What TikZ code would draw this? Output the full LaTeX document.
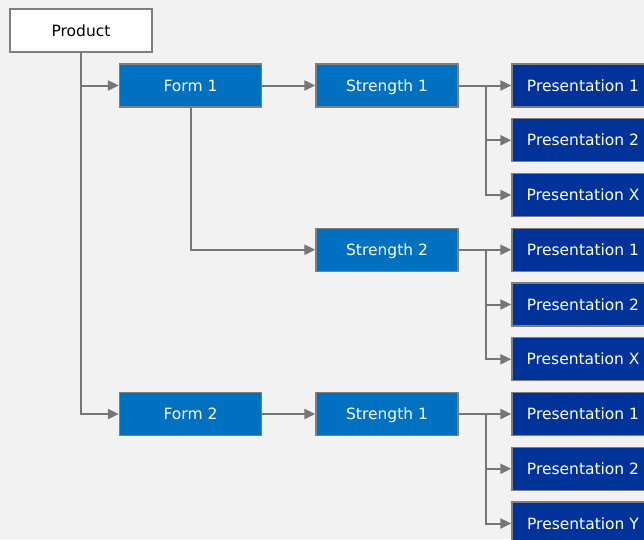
\documentclass[tikz,border=0pt]{standalone}
\usepackage{fontspec}
\setmainfont{DejaVu Sans}
\usepackage{xcolor}
\usetikzlibrary{arrows.meta}
\definecolor{bggray}{HTML}{F2F2F2}
\definecolor{linegray}{HTML}{767676}
\definecolor{edgegray}{HTML}{7F7F7F}
\definecolor{formblue}{HTML}{0070C0}
\definecolor{presblue}{HTML}{003399}

\begin{document}
\begin{tikzpicture}[x=1pt, y=-1pt, >={Triangle[length=11pt,width=10pt]}, line width=2pt,
  font=\fontsize{15.5}{18}\selectfont,
  box/.style={draw=edgegray, line width=1.3pt, minimum width=142pt, minimum height=43pt, inner sep=0pt,
    text height=11pt, text depth=0pt},
  prodbox/.style={box, fill=white, text=black},
  formbox/.style={box, fill=formblue, text=white},
  presbox/.style={box, fill=presblue, text=white},
  link/.style={linegray, ->}]
  \clip (0,0) rectangle (644,539);
  \fill[bggray] (0,0) rectangle (644,539);
  % product and forms
  \node[prodbox] (product) at (81,30.5) {Product};
  \node[formbox] (form1) at (190.5,85.5) {Form 1};
  \node[formbox] (form2) at (190.5,414) {Form 2};
  % strengths
  \node[formbox] (str11) at (387,85.5) {Strength 1};
  \node[formbox] (str12) at (387,249.75) {Strength 2};
  \node[formbox] (str21) at (387,414) {Strength 1};
  % presentations
  \node[presbox] (pres111) at (583,85.5) {Presentation 1};
  \node[presbox] (pres112) at (583,140.25) {Presentation 2};
  \node[presbox] (pres11x) at (583,195) {Presentation X};
  \node[presbox] (pres121) at (583,249.75) {Presentation 1};
  \node[presbox] (pres122) at (583,304.5) {Presentation 2};
  \node[presbox] (pres12x) at (583,359.25) {Presentation X};
  \node[presbox] (pres211) at (583,414) {Presentation 1};
  \node[presbox] (pres212) at (583,468.75) {Presentation 2};
  \node[presbox] (pres21y) at (583,523.5) {Presentation Y};
  % connectors
  \draw[link] (product.south) |- (form1.west);
  \draw[link] (product.south) |- (form2.west);
  \draw[link] (form1.east) -- (str11.west);
  \draw[link] (form1.south) |- (str12.west);
  \draw[link] (form2.east) -- (str21.west);
  \foreach \s/\a/\b/\c in {str11/pres111/pres112/pres11x, str12/pres121/pres122/pres12x, str21/pres211/pres212/pres21y} {
    \draw[link] (\s.east) -- (\a.west);
    \draw[link] (\s.east) -- ++(27,0) |- (\b.west);
    \draw[link] (\s.east) -- ++(27,0) |- (\c.west);
  }
\end{tikzpicture}
\end{document}
